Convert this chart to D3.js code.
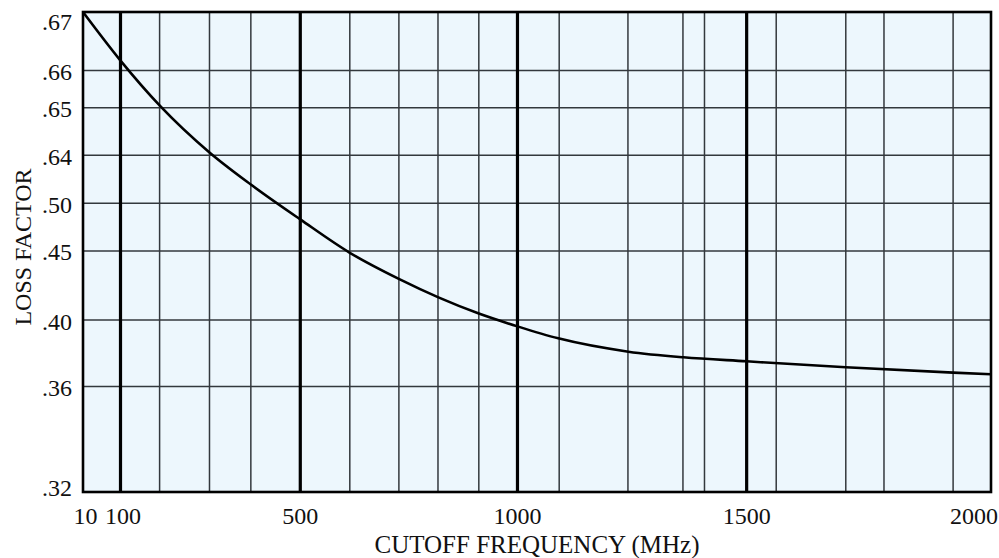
<!DOCTYPE html>
<html lang="en">
<head>
    <meta charset="UTF-8">
    <title>loss factor vs cutoff frequency</title>
    <script src="https://d3js.org/d3.v7.min.js"></script>
    <style>
        body {
            margin: 0;
            background: white;
        }
        svg text {
            font-family: "Liberation Serif", "Times New Roman", serif;
            fill: #111;
        }
        .bg {
            fill: #edf7fd;
        }
        .grid {
            stroke: #33383d;
            stroke-width: 1.5;
        }
        .major {
            stroke: black;
            stroke-width: 3.2;
        }
        .frame {
            fill: none;
            stroke: black;
            stroke-width: 2.6;
        }
        .curve {
            fill: none;
            stroke: black;
            stroke-width: 2.6;
        }
    </style>
</head>
<body>
    <div id="chart"></div>
    <script>
        // data
        const freq = [10, 100, 188, 298, 390, 500, 614, 728, 818, 911, 1000, 1089, 1242, 1362, 1500, 1718, 1954, 2037]
        const loss = [.670, .6617, .6505, .6406, .5545, .483, .4487, .4296, .4164, .4047, .3962, .389, .381, .3776, .3752, .3716, .3684, .3674]

        const xTicks = [10, 100, 500, 1000, 1500, 2000]
        const xMajor = [100, 500, 1000, 1500]
        const xMinor = [187, 298, 390, 614, 727, 817, 911, 1091, 1241, 1361, 1408, 1565, 1718, 1802, 1954]
        const yTicks = [.67, .66, .65, .64, .50, .45, .40, .36, .32]
        const yLabels = ['.67', '.66', '.65', '.64', '.50', '.45', '.40', '.36', '.32']

        const WIDTH = 999
        const HEIGHT = 558
        const MARGIN = { top: 12, right: 8, bottom: 66, left: 83 }
        const plotW = WIDTH - MARGIN.left - MARGIN.right
        const plotH = HEIGHT - MARGIN.top - MARGIN.bottom

        // the original axes are not evenly spaced, so both scales are piecewise
        const x = d3.scaleLinear()
            .domain([10, 100, 500, 1000, 1500, 2000, 2037])
            .range([0, 0.0413, 0.2393, 0.4785, 0.7309, 0.9813, 1].map(f => MARGIN.left + f * plotW))

        const y = d3.scaleLinear()
            .domain(yTicks)
            .range([0, 0.1219, 0.1994, 0.2985, 0.3982, 0.4979, 0.6418, 0.7804, 1].map(f => MARGIN.top + f * plotH))

        const svg = d3.select('#chart')
            .append('svg')
            .attr('width', WIDTH)
            .attr('height', HEIGHT)
            .attr('viewBox', [0, 0, WIDTH, HEIGHT])

        const x0 = MARGIN.left, x1 = WIDTH - MARGIN.right
        const y0 = MARGIN.top, y1 = HEIGHT - MARGIN.bottom

        svg.append('rect').attr('class', 'bg')
            .attr('x', x0).attr('y', y0)
            .attr('width', plotW).attr('height', plotH)

        // grid
        svg.append('g').selectAll('line')
            .data(yTicks).enter()
            .append('line').attr('class', 'grid')
            .attr('x1', x0).attr('x2', x1)
            .attr('y1', d => y(d)).attr('y2', d => y(d))

        svg.append('g').selectAll('line')
            .data(xMinor).enter()
            .append('line').attr('class', 'grid')
            .attr('x1', d => x(d)).attr('x2', d => x(d))
            .attr('y1', y0).attr('y2', y1)

        svg.append('g').selectAll('line')
            .data(xMajor).enter()
            .append('line').attr('class', 'major')
            .attr('x1', d => x(d)).attr('x2', d => x(d))
            .attr('y1', y0).attr('y2', y1)

        // curve (smoothed in screen space)
        const line = d3.line()
            .x(d => x(d[0]))
            .y(d => y(d[1]))
            .curve(d3.curveMonotoneX)

        svg.append('path').attr('class', 'curve')
            .attr('d', line(d3.zip(freq, loss)))

        svg.append('rect').attr('class', 'frame')
            .attr('x', x0).attr('y', y0)
            .attr('width', plotW).attr('height', plotH)

        // y tick labels (end ones pushed inside like the original)
        svg.append('g').selectAll('text')
            .data(yTicks).enter()
            .append('text')
            .attr('x', x0 - 11)
            .attr('y', d => Math.min(Math.max(y(d), y0 + 8), y1 - 6) + 1.5)
            .attr('text-anchor', 'end')
            .attr('dominant-baseline', 'central')
            .attr('font-size', 24)
            .text((d, i) => yLabels[i])

        // x tick labels
        svg.append('g').selectAll('text')
            .data(xTicks).enter()
            .append('text')
            .attr('x', d => x(d) + (d <= 100 ? 2.5 : 0))
            .attr('y', y1 + 31.5)
            .attr('text-anchor', 'middle')
            .attr('font-size', 24)
            .text(d => d)

        svg.append('text')
            .attr('x', (x0 + x1) / 2)
            .attr('y', HEIGHT - 5.5)
            .attr('text-anchor', 'middle')
            .attr('font-size', 25)
            .text('CUTOFF FREQUENCY (MHz)')

        svg.append('text')
            .attr('transform', `translate(31, ${(y0 + y1) / 2 - 5}) rotate(-90)`)
            .attr('text-anchor', 'middle')
            .attr('font-size', 24)
            .text('LOSS FACTOR')
    </script>
</body>
</html>
